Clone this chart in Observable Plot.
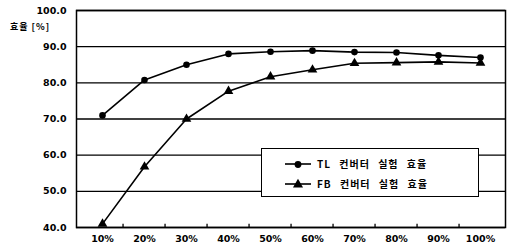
<!DOCTYPE html>
<html><head><meta charset="utf-8">
<script src="https://cdn.jsdelivr.net/npm/d3@7"></script>
<script src="https://cdn.jsdelivr.net/npm/@observablehq/plot@0.6"></script>
<style>
body{margin:0;background:#fff;font-family:"Noto Sans CJK KR","DejaVu Sans",sans-serif;}
#wrap{position:relative;width:508px;height:249px;}
#ytitle{position:absolute;left:10px;top:20px;font-size:9px;font-weight:bold;letter-spacing:1px;}
#legend{position:absolute;left:261px;top:148px;width:218px;height:49px;background:#fff;border:1px solid #000;box-sizing:border-box;font-size:10px;font-weight:bold;}
#legend .row{position:absolute;left:22px;display:flex;align-items:center;letter-spacing:1px;word-spacing:5px;}
#legend svg{margin-right:5px;}
</style></head>
<body><div id="wrap"><div id="chart"></div><div id="ytitle">효율 [%]</div>
<div id="legend"></div></div>
<script>
const loads = ["10%","20%","30%","40%","50%","60%","70%","80%","90%","100%"];
const tlEff = [71.0, 80.8, 85.0, 88.0, 88.6, 88.9, 88.5, 88.4, 87.6, 87.0];
const fbEff = [41.0, 56.8, 70.0, 77.7, 81.7, 83.6, 85.4, 85.6, 85.8, 85.5];
const yTicks = [40,50,60,70,80,90,100];
const seriesNames = ["TL 컨버터 실험 효율","FB 컨버터 실험 효율"];

const tl = loads.map((l,i)=>({load:l, v:tlEff[i]}));
const fb = loads.map((l,i)=>({load:l, v:fbEff[i]}));
const step = (508-76-3)/loads.length;

const chart = Plot.plot({
  width:508, height:249,
  marginLeft:76, marginRight:3, marginTop:10, marginBottom:22,
  style:{fontFamily:"'DejaVu Sans',sans-serif", fontSize:"9.5px", fontWeight:"bold", background:"#fff"},
  x:{type:"point", domain:loads, padding:0.5, label:null, tickSize:0, tickPadding:8},
  y:{domain:[40,100], ticks:yTicks, tickFormat:d=>d.toFixed(1), label:null, tickSize:0, tickPadding:10},
  marks:[
    Plot.ruleY(yTicks,{stroke:"#000", strokeWidth:1.3}),
    Plot.ruleX(loads.slice(1),{x:d=>d, y1:40, y2:40.9, dx:-step/2, stroke:"#000", strokeWidth:1.3}),
    Plot.frame({stroke:"#000", strokeWidth:1.5}),
    Plot.line(tl,{x:"load",y:"v",stroke:"#000",strokeWidth:1.6}),
    Plot.dot(tl,{x:"load",y:"v",fill:"#000",r:3.3,symbol:"circle"}),
    Plot.line(fb,{x:"load",y:"v",stroke:"#000",strokeWidth:1.6}),
    Plot.dot(fb,{x:"load",y:"v",fill:"#000",r:3.6,symbol:"triangle"})
  ]
});
document.getElementById("chart").appendChild(chart);

const leg = document.getElementById("legend");
const syms = ["circle","triangle"];
seriesNames.forEach((n,i)=>{
  const row = document.createElement("div");
  row.className="row"; row.style.top = (i===0?7:27)+"px";
  const s = d3.symbol(syms[i]==="circle"?d3.symbolCircle:d3.symbolTriangle, syms[i]==="circle"?36:44)();
  row.innerHTML = `<svg width="28" height="12"><line x1="1" y1="6" x2="27" y2="6" stroke="#000" stroke-width="1.6"/><path d="${s}" transform="translate(14,6.5)" fill="#000"/></svg><span>${n}</span>`;
  leg.appendChild(row);
});
</script></body></html>
